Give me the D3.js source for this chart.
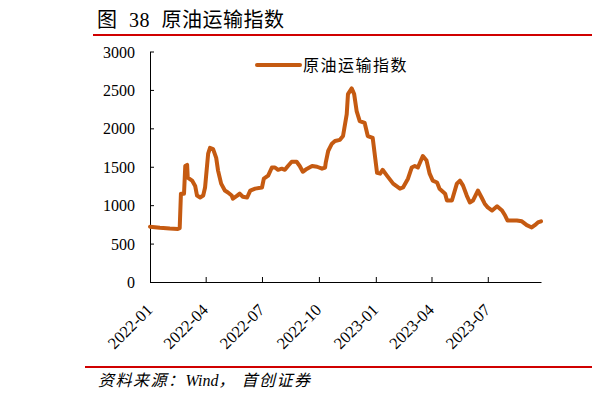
<!DOCTYPE html>
<html>
<head>
<meta charset="utf-8">
<script src="https://cdn.jsdelivr.net/npm/d3@7"></script>
<style>
  body { margin: 0; background: #fff; }
  svg { display: block; }
  .axis path, .axis line { stroke: #000; }
  .axis text { font-family: "Liberation Serif", "Times New Roman", serif; font-size: 16px; fill: #000; }
</style>
</head>
<body>
<script>
// 原油运输指数
var dates = [
  "2022-01-01","2022-01-17","2022-02-02","2022-02-15","2022-02-18","2022-02-20","2022-02-25","2022-02-27",
  "2022-03-02","2022-03-03","2022-03-10","2022-03-15","2022-03-18","2022-03-23","2022-03-28","2022-03-31",
  "2022-04-05","2022-04-08","2022-04-13","2022-04-18","2022-04-21","2022-04-26","2022-05-02","2022-05-07",
  "2022-05-13","2022-05-15","2022-05-22","2022-05-26","2022-05-31","2022-06-07","2022-06-12","2022-06-20",
  "2022-07-01","2022-07-04","2022-07-11","2022-07-17","2022-07-22","2022-07-27","2022-08-02","2022-08-07",
  "2022-08-12","2022-08-18","2022-08-26","2022-08-31","2022-09-05","2022-09-12","2022-09-20","2022-09-28",
  "2022-10-06","2022-10-11","2022-10-12","2022-10-16","2022-10-22","2022-10-27","2022-11-04","2022-11-09",
  "2022-11-15","2022-11-17","2022-11-23","2022-11-27","2022-12-01","2022-12-06","2022-12-14","2022-12-19",
  "2022-12-27","2023-01-03","2023-01-08","2023-01-12","2023-01-19","2023-01-29","2023-02-09","2023-02-14",
  "2023-02-22","2023-02-28","2023-03-05","2023-03-10","2023-03-18","2023-03-24","2023-03-29","2023-04-03",
  "2023-04-10","2023-04-14","2023-04-23","2023-04-26","2023-05-04","2023-05-12","2023-05-17","2023-05-22",
  "2023-05-28","2023-06-02","2023-06-07","2023-06-15","2023-06-21","2023-06-26","2023-07-01","2023-07-08",
  "2023-07-16","2023-07-24","2023-07-29","2023-08-02","2023-08-17","2023-08-25","2023-09-02","2023-09-10",
  "2023-09-15","2023-09-20","2023-09-25"
];
var values = [
  720,705,695,690,700,1150,1150,1510,
  1525,1360,1320,1250,1125,1100,1125,1230,
  1670,1745,1730,1615,1450,1280,1190,1165,
  1125,1085,1125,1150,1110,1100,1190,1215,
  1230,1345,1385,1490,1490,1460,1475,1460,
  1510,1565,1565,1510,1435,1475,1510,1500,
  1475,1490,1550,1705,1800,1835,1850,1900,
  2185,2445,2520,2445,2225,2095,2070,1900,
  1875,1420,1410,1460,1385,1280,1215,1230,
  1345,1490,1510,1490,1640,1580,1410,1320,
  1295,1215,1150,1060,1060,1280,1320,1255,
  1125,1035,1060,1190,1100,1020,970,930,
  985,930,865,800,800,790,740,710,
  740,775,790
];
var yTicks = [0, 500, 1000, 1500, 2000, 2500, 3000];
var seriesName = "原油运输指数";
var titleText = "图 38 原油运输指数";
var sourceParts = ["资料来源：", "Wind", "， 首创证券"];

var width = 592, height = 402;
var margin = {left: 150, right: 51, top: 51.5, bottom: 120};
var lineColor = "#C55A11";
var red = "#D00000";
var mixedFont = "'Liberation Serif', 'Noto Sans CJK SC', serif";

var parse = d3.timeParse("%Y-%m-%d");
var data = dates.map(function(d, i) { return {date: parse(d), value: values[i]}; });

var svg = d3.select("body").append("svg")
  .attr("width", width)
  .attr("height", height);

var x = d3.scaleTime()
  .domain(d3.extent(data, function(d) { return d.date; }))
  .range([margin.left, width - margin.right]);

var y = d3.scaleLinear()
  .domain([0, 3000])
  .range([height - margin.bottom, margin.top]);

// title + red rules
svg.append("text")
  .attr("x", 97)
  .attr("y", 27)
  .style("font-family", mixedFont)
  .style("font-size", "20px")
  .style("word-spacing", "6px")
  .style("letter-spacing", "0.5px")
  .style("fill", "#000")
  .text(titleText);

svg.append("line")
  .attr("x1", 93).attr("x2", width)
  .attr("y1", 35).attr("y2", 35)
  .attr("stroke", red).attr("stroke-width", 2);

svg.append("line")
  .attr("x1", 85).attr("x2", width)
  .attr("y1", 367).attr("y2", 367)
  .attr("stroke", red).attr("stroke-width", 2);

var source = svg.append("text")
  .attr("x", 98)
  .attr("y", 386)
  .style("font-family", mixedFont)
  .style("font-size", "16px")
  .style("font-style", "italic")
  .style("fill", "#000");
source.selectAll("tspan")
  .data(sourceParts)
  .enter()
  .append("tspan")
  .style("letter-spacing", function(d, i) { return i === 1 ? "0px" : "1.5px"; })
  .text(function(d) { return d; });

// y axis, ticks pointing in
var yAxis = svg.append("g")
  .attr("class", "axis")
  .attr("transform", "translate(" + margin.left + ",0)")
  .call(d3.axisRight(y).tickValues(yTicks).tickFormat(d3.format("d")).tickSize(4).tickSizeOuter(0).tickPadding(0));

yAxis.selectAll("text")
  .attr("x", -15)
  .attr("text-anchor", "end")
  .attr("dy", "0.35em");

// x axis, ticks pointing up
var xAxis = svg.append("g")
  .attr("class", "axis")
  .attr("transform", "translate(0," + (height - margin.bottom) + ")")
  .call(d3.axisTop(x).ticks(d3.timeMonth.every(3)).tickFormat(d3.timeFormat("%Y-%m")).tickSize(5).tickSizeOuter(0));

xAxis.selectAll("text")
  .attr("y", 0)
  .attr("dy", 0)
  .attr("text-anchor", "end")
  .style("font-size", "16.5px")
  .attr("transform", "translate(3,29) rotate(-45)");

// the series
var line = d3.line()
  .x(function(d) { return x(d.date); })
  .y(function(d) { return y(d.value); });

svg.append("path")
  .datum(data)
  .attr("fill", "none")
  .attr("stroke", lineColor)
  .attr("stroke-width", 4)
  .attr("stroke-linejoin", "round")
  .attr("stroke-linecap", "round")
  .attr("d", line);

// legend
var legend = svg.append("g").attr("transform", "translate(257,65)");
legend.append("line")
  .attr("x1", 0).attr("x2", 43)
  .attr("stroke", lineColor)
  .attr("stroke-width", 4)
  .attr("stroke-linecap", "round");
legend.append("text")
  .attr("x", 46)
  .attr("dy", "0.35em")
  .style("font-family", "'Noto Sans CJK SC', sans-serif")
  .style("font-size", "16px")
  .style("letter-spacing", "1.5px")
  .style("fill", "#000")
  .text(seriesName);
</script>
</body>
</html>
